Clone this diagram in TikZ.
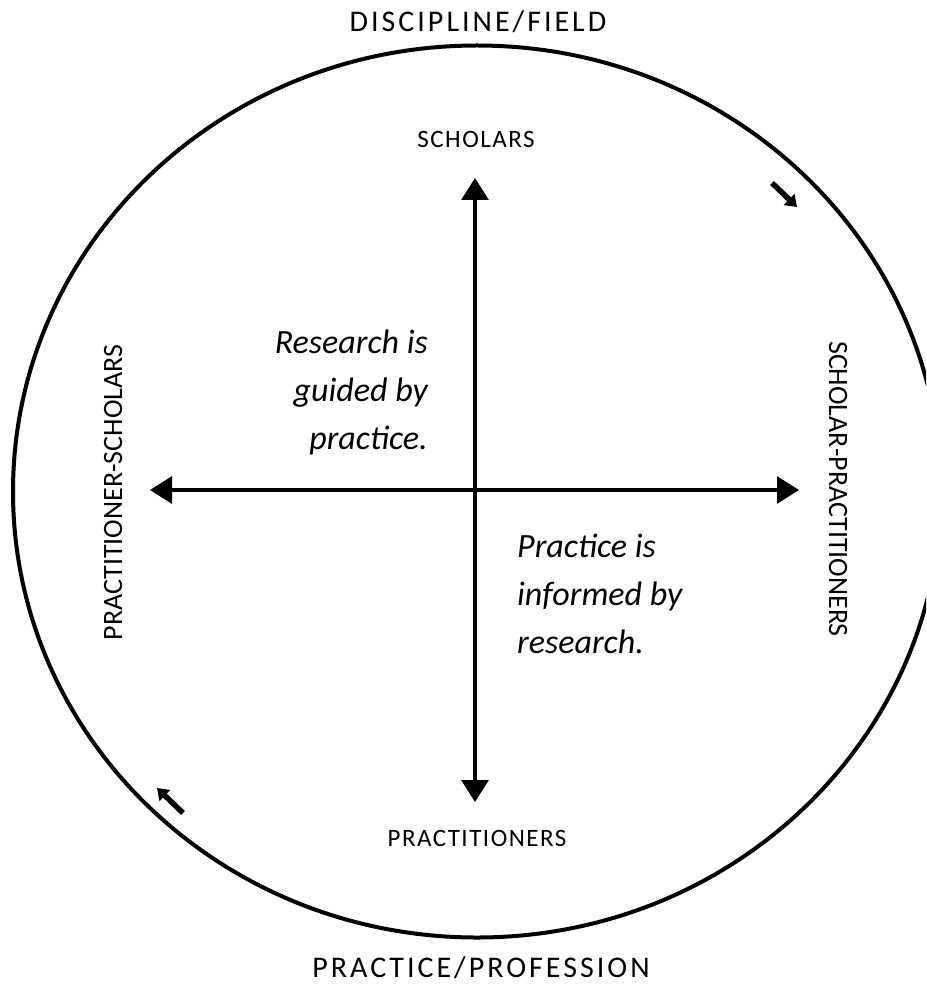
\documentclass[tikz,border=0pt]{standalone}
\usepackage{fontspec}
\setmainfont{Carlito}
\newfontfamily\bigtrack[LetterSpace=10]{Carlito}
\newfontfamily\midtrack[LetterSpace=6]{Carlito}
\usetikzlibrary{arrows.meta}
\begin{document}
\begin{tikzpicture}[x=1pt,y=-1pt,
  axis/.style={line width=3.2pt,{Triangle[width=27pt,length=22pt]}-{Triangle[width=27pt,length=22pt]}},
  turn/.style={line width=5.5pt,-{Triangle[width=15pt,length=11pt]}},
  bigcap/.style={inner sep=0pt,font=\bigtrack\fontsize{30}{30}\selectfont},
  midcap/.style={inner sep=0pt,font=\midtrack\fontsize{25}{25}\selectfont},
  sidecap/.style={inner sep=0pt,font=\fontsize{28}{28}\selectfont},
  quote/.style={inner sep=0pt,font=\itshape\fontsize{34}{34}\selectfont}]
\useasboundingbox (0,0) rectangle (926,984);
\clip (0,0) rectangle (926,984);
\fill[white] (0,0) rectangle (926,984);
% outer circle
\draw[line width=4pt] (477,491.5) ellipse [x radius=464, y radius=446];
% axes
\coordinate (tT) at (475,178);
\coordinate (tB) at (475,802);
\coordinate (tL) at (150,490);
\coordinate (tR) at (799,490);
\draw[axis] (tB) -- (tT);
\draw[axis] (tL) -- (tR);
% small direction arrows
\coordinate (a1s) at (772,183);
\coordinate (a1e) at (797,207);
\coordinate (a2s) at (183,813);
\coordinate (a2e) at (157,788);
\draw[turn] (a1s) -- (a1e);
\draw[turn] (a2s) -- (a2e);
% labels
\node[bigcap,anchor=base] (field) at (478,32) {DISCIPLINE/FIELD};
\node[bigcap,anchor=base] (prof) at (481,977) {PRACTICE/PROFESSION};
\node[midcap,anchor=base] (sch) at (476,148) {SCHOLARS};
\node[midcap,anchor=base] (pra) at (477,846) {PRACTITIONERS};
\node[sidecap,anchor=base,rotate=90] (ps) at (122,492.5) {PRACTITIONER-SCHOLARS};
\node[sidecap,anchor=base,rotate=-90] (sp) at (829,489) {SCHOLAR-PRACTITIONERS};
% quotes
\node[quote,anchor=base east] (r1) at (428,353) {Research is};
\node[quote,anchor=base east] (r2) at (428,401) {guided by};
\node[quote,anchor=base east] (r3) at (428,449) {practice.};
\node[quote,anchor=base west] (p1) at (517,557) {Practice is};
\node[quote,anchor=base west] (p2) at (517,605) {informed by};
\node[quote,anchor=base west] (p3) at (517,653) {research.};
\end{tikzpicture}
\end{document}
